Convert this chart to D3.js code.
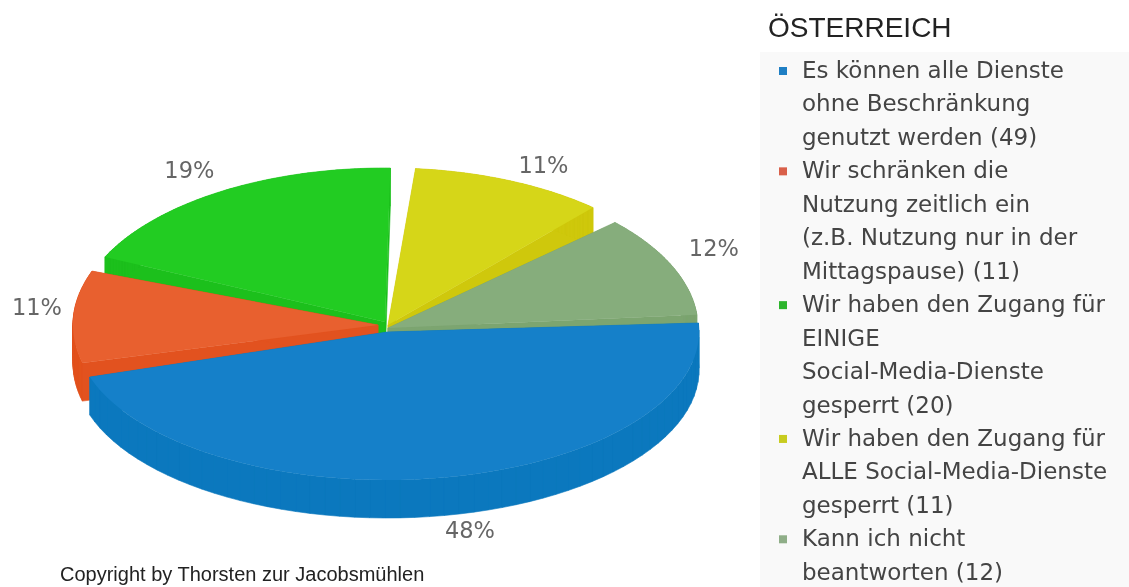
<!DOCTYPE html>
<html><head><meta charset="utf-8">
<script src="https://cdn.jsdelivr.net/npm/d3@7"></script>
<style>html,body{margin:0;padding:0;background:#fff}svg{display:block;filter:blur(0.6px)}</style>
</head><body><svg id="c" width="1129" height="587"></svg>
<script>
const title = "ÖSTERREICH";
const copyright = "Copyright by Thorsten zur Jacobsmühlen";
const categories = ["Es können alle Dienste ohne Beschränkung genutzt werden","Wir schränken die Nutzung zeitlich ein (z.B. Nutzung nur in der Mittagspause)","Wir haben den Zugang für EINIGE Social-Media-Dienste gesperrt","Wir haben den Zugang für ALLE Social-Media-Dienste gesperrt","Kann ich nicht beantworten"];
const values = [49, 11, 20, 11, 12];
const legendLines = [
  ["Es können alle Dienste","ohne Beschränkung","genutzt werden (49)"],
  ["Wir schränken die","Nutzung zeitlich ein","(z.B. Nutzung nur in der","Mittagspause) (11)"],
  ["Wir haben den Zugang für","EINIGE","Social-Media-Dienste","gesperrt (20)"],
  ["Wir haben den Zugang für","ALLE Social-Media-Dienste","gesperrt (11)"],
  ["Kann ich nicht","beantworten (12)"]
];
const topColors  = ["#1580c9","#e8602f","#22cc22","#d6d618","#86ad7c"];
const wallColors = ["#0b78be","#e2521f","#1cc01c","#cfc80c","#7ca570"];
const keyColors  = ["#1f7fc4","#d9604a","#2cb52c","#c8cc20","#8fae88"];
// slice placement: exploded centre, ellipse radii, depth, rotation (deg), span stretch, label factors
const cxs    = [387,378,385,388,388];
const cys    = [332,325,322,325,328];
const rxs    = [312,305,309,309,310];
const rys    = [148,155,154,157,155];
const depths = [38,38,38,38,38];
const turns  = [0.5,-1.5,-0.7,-0.5,3];
const spans  = [0.968,0.90,0.944,0.948,0.906];
const labX   = [1.445,1.12,1.195,1.27,1.15];
const labY   = [1.36,1.1,1.167,1.11,1.27];
const labDy  = [0,-9,0,0,0];
const paintOrder = [2,3,4,1,0];

const svg = d3.select("#c");
const total = d3.sum(values);
const deg = Math.PI/180;
const pie = d3.pie().sort(null).startAngle(86*deg).endAngle(86*deg+2*Math.PI);
const arcs = pie(values);

function outline(i, a){
  const s = a.startAngle - Math.PI/2 + turns[i]*deg;
  const e = s + (a.endAngle - a.startAngle)*spans[i];
  const n = 60, pts = [[cxs[i],cys[i]]];
  d3.range(n+1).forEach(k=>{
    const t = s+(e-s)*k/n;
    pts.push([cxs[i]+rxs[i]*Math.cos(t), cys[i]+rys[i]*Math.sin(t)]);
  });
  return {pts, s, e};
}
const line = d3.line();
// legend panel goes behind everything
svg.append("rect").attr("x",760).attr("y",52).attr("width",369).attr("height",535).attr("fill","#f9f9f9");
paintOrder.forEach(i=>{
  const o = outline(i, arcs[i]);
  const g = svg.append("g");
  const d = depths[i];
  const wall = o.pts.map((p,k)=>{
    const q = o.pts[(k+1)%o.pts.length];
    let quad = [p,q,[q[0],q[1]+d],[p[0],p[1]+d]];
    if (d3.polygonArea(quad) < 0) quad = quad.reverse();
    return line(quad)+"Z";
  }).join("");
  g.append("path").attr("d",wall).attr("fill",wallColors[i]).attr("stroke",wallColors[i]).attr("stroke-width",0.6);
  g.append("path").attr("d",line(o.pts)+"Z").attr("fill",topColors[i]);
});
// percent labels
arcs.forEach((a,i)=>{
  const o = outline(i,a), m=(o.s+o.e)/2;
  svg.append("text")
    .attr("x",cxs[i]+rxs[i]*labX[i]*Math.cos(m))
    .attr("y",cys[i]+rys[i]*labY[i]*Math.sin(m)+8+labDy[i])
    .attr("text-anchor","middle")
    .attr("font-family","DejaVu Sans").attr("font-size",22.5).attr("fill","#666")
    .text(Math.round(values[i]/total*100)+"%");
});
// legend
svg.append("text").attr("x",768).attr("y",37).attr("font-family","Liberation Sans").attr("font-size",28).attr("fill","#222").text(title);
const lineH = 33.45, firstY = 78;
let row = 0;
legendLines.forEach((ls,i)=>{
  svg.append("rect").attr("x",779).attr("y",firstY+row*lineH-11).attr("width",8).attr("height",8).attr("fill",keyColors[i]);
  ls.forEach(t=>{
    svg.append("text").attr("x",802).attr("y",firstY+row*lineH)
      .attr("font-family","DejaVu Sans").attr("font-size",23).attr("fill","#444").text(t);
    row++;
  });
});
svg.append("text").attr("x",60).attr("y",581).attr("font-family","Liberation Sans").attr("font-size",20).attr("fill","#222").text(copyright);
</script></body></html>
